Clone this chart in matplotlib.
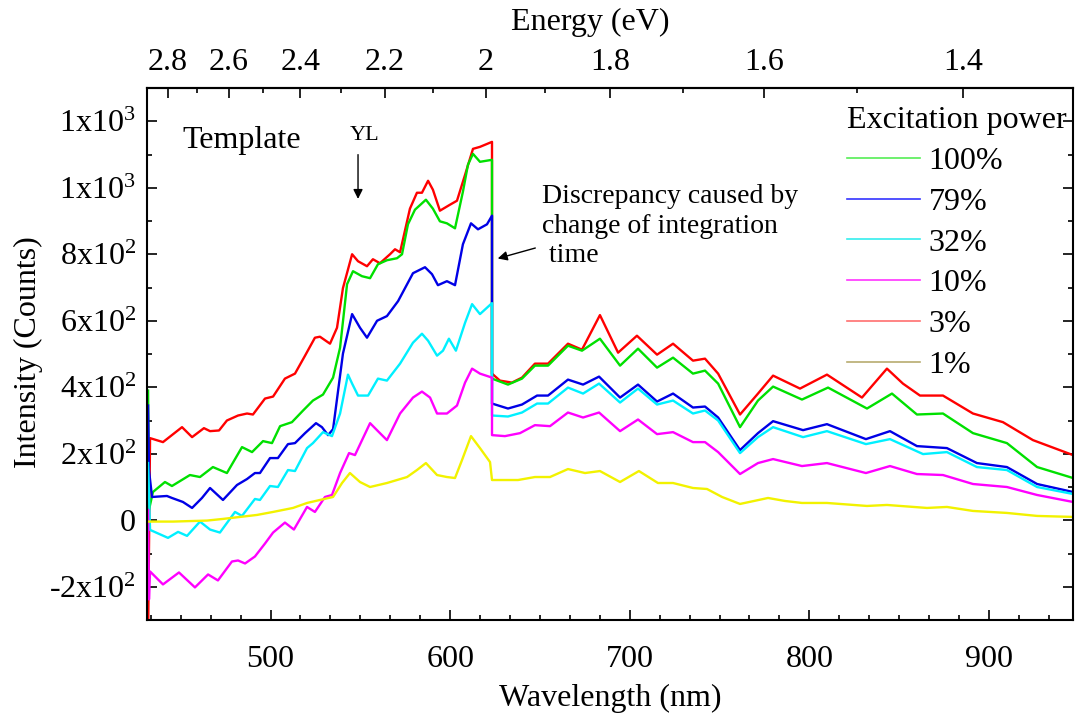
import matplotlib
matplotlib.use('Agg')
import matplotlib.pyplot as plt
from matplotlib.ticker import FixedLocator, MultipleLocator, AutoMinorLocator, FuncFormatter
from matplotlib.lines import Line2D

plt.rcParams['font.family'] = ['Liberation Serif', 'DejaVu Serif']
plt.rcParams['mathtext.fontset'] = 'custom'
plt.rcParams['mathtext.rm'] = 'Liberation Serif'
plt.rcParams['mathtext.it'] = 'Liberation Serif:italic'

# PL spectra, wavelength (nm) / intensity (counts)
wl_3 = [431.8, 432.9, 440.1, 450.7, 456.3, 462.9, 466.3, 471.3, 475.7, 481.9, 486.9, 490.2, 496.9, 501.4,
        508.0, 513.6, 519.2, 524.7, 527.5, 533.1, 537.0, 540.3, 545.4, 548.7, 553.7, 557.0, 560.9, 566.5,
        569.3, 572.1, 577.6, 581.5, 584.3, 587.7, 590.4, 594.3, 599.9, 603.8, 608.3, 612.7, 616.6, 623.3,
        623.3, 627.7, 634.4, 640.0, 647.2, 654.5, 665.6, 673.4, 683.4, 693.5, 704.0, 715.2, 724.1, 735.2,
        741.9, 749.2, 761.4, 771.4, 779.8, 794.8, 809.8, 829.3, 843.2, 852.1, 861.6, 874.4, 891.1, 907.8,
        924.5, 946.8]
int_3 = [-360, 247, 235, 280, 250, 277, 268, 270, 300, 315, 321, 318, 366, 372,
         426, 441, 495, 549, 552, 531, 579, 698, 800, 779, 764, 785, 773, 800,
         815, 806, 937, 985, 985, 1021, 994, 931, 949, 961, 1039, 1117, 1123, 1138,
         441, 420, 414, 429, 471, 471, 531, 513, 617, 504, 555, 498, 531, 480,
         486, 441, 318, 381, 435, 396, 438, 369, 456, 411, 375, 375, 321, 295,
         241, 196]

wl_100 = [431.8, 432.3, 434.5, 441.2, 445.1, 455.1, 460.7, 467.9, 475.7, 484.1, 489.7, 495.8, 500.8, 505.3,
          511.9, 518.1, 523.6, 529.2, 534.8, 538.7, 542.6, 545.9, 550.9, 555.4, 559.8, 564.8, 570.4, 573.2,
          576.5, 580.4, 586.5, 590.4, 594.3, 598.2, 602.7, 607.1, 609.9, 612.7, 616.6, 623.3,
          623.3, 632.2, 640.0, 647.2, 654.5, 665.6, 673.4, 683.4, 694.6, 704.6, 715.2, 724.1, 735.2,
          741.9, 749.2, 761.4, 771.4, 779.8, 795.9, 810.4, 832.1, 846.0, 859.9, 874.4, 891.1, 910.0,
          926.8, 946.8]
int_100 = [390, 31, 85, 115, 103, 136, 130, 160, 142, 220, 205, 238, 232, 283,
           295, 330, 360, 378, 429, 519, 710, 749, 734, 728, 770, 782, 788, 800,
           890, 934, 964, 937, 899, 893, 878, 988, 1069, 1102, 1078, 1084,
           426, 408, 426, 465, 465, 525, 510, 546, 465, 516, 459, 489, 441,
           450, 411, 280, 360, 402, 363, 399, 336, 381, 318, 321, 262, 232,
           160, 127]

wl_79 = [431.8, 432.3, 434.0, 442.3, 445.1, 451.2, 456.3, 461.8, 466.3, 473.5, 481.3, 486.9, 491.3, 494.1,
         499.7, 504.1, 509.7, 513.6, 519.2, 525.3, 528.6, 532.0, 534.8, 540.3, 545.4, 549.8, 553.7, 559.3,
         564.8, 571.0, 579.3, 586.0, 589.9, 593.2, 598.2, 602.7, 607.1, 611.6, 615.5, 620.5, 623.3,
         623.3, 632.2, 640.0, 648.4, 654.5, 665.6, 674.0, 682.9, 694.6, 704.6, 715.2, 724.1, 735.2,
         741.9, 749.2, 761.4, 771.4, 779.8, 796.5, 809.8, 831.5, 844.9, 859.9, 876.6, 893.3, 910.0,
         926.8, 946.8]
int_79 = [345, 151, 70, 73, 67, 55, 37, 67, 97, 61, 106, 124, 142, 142,
          187, 187, 229, 232, 262, 292, 280, 256, 274, 501, 620, 579, 549, 600,
          614, 659, 743, 761, 740, 707, 719, 707, 830, 893, 875, 890, 916,
          351, 336, 348, 375, 375, 423, 408, 432, 369, 408, 357, 381, 339,
          342, 309, 211, 262, 298, 271, 289, 244, 268, 223, 217, 172, 160,
          109, 85]

wl_32 = [431.8, 432.9, 442.9, 448.5, 453.5, 460.7, 466.3, 471.8, 480.2, 484.1, 491.3, 494.1, 499.7, 504.1,
         509.7, 513.6, 520.3, 523.6, 529.2, 534.2, 538.7, 543.1, 545.4, 548.7, 554.3, 559.8, 564.8, 572.1,
         579.3, 584.3, 587.7, 592.7, 596.0, 599.3, 603.2, 608.3, 612.2, 616.6, 623.3,
         623.3, 632.2, 640.0, 648.4, 654.5, 665.6, 674.0, 682.9, 694.6, 704.6, 715.2, 724.1, 735.2,
         741.9, 749.2, 761.4, 771.4, 779.8, 796.5, 809.8, 831.5, 844.9, 863.3, 876.6, 893.3, 910.0,
         926.8, 946.8]
int_32 = [172, -29, -53, -35, -47, -4, -28, -37, 25, 13, 64, 61, 103, 100,
          151, 148, 217, 232, 265, 253, 321, 438, 411, 375, 375, 426, 420, 471,
          534, 561, 540, 495, 510, 546, 510, 594, 650, 620, 653,
          315, 312, 324, 351, 351, 399, 381, 411, 354, 396, 348, 360, 321,
          330, 300, 202, 250, 280, 250, 268, 229, 244, 199, 205, 160, 151,
          100, 79]

wl_10 = [431.8, 432.3, 432.9, 440.1, 449.0, 457.9, 465.2, 470.7, 478.5, 481.9, 485.8, 491.3, 496.9, 501.4,
         508.0, 513.0, 520.3, 524.7, 530.3, 534.2, 538.7, 543.7, 547.0, 555.4, 560.9, 564.8, 572.1, 579.3,
         584.3, 588.8, 592.7, 598.2, 603.8, 608.3, 612.2, 616.6, 623.3,
         623.3, 630.5, 638.9, 647.2, 655.6, 665.6, 674.0, 682.9, 694.6, 704.6, 715.2, 724.1, 735.2,
         741.9, 749.2, 761.4, 771.4, 779.8, 795.9, 809.8, 831.5, 844.9, 859.9, 874.4, 891.1, 910.0,
         926.8, 946.8]
int_10 = [31, -238, -154, -193, -157, -202, -163, -181, -124, -121, -130, -109, -70, -37,
          -7, -28, 40, 25, 70, 76, 142, 202, 196, 292, 262, 241, 321, 369,
          387, 369, 321, 321, 345, 414, 456, 441, 429,
          256, 253, 262, 286, 283, 324, 309, 324, 268, 303, 259, 265, 235,
          235, 205, 139, 172, 184, 163, 172, 142, 163, 139, 136, 109, 100,
          76, 55]

wl_1 = [431.8, 445.7, 464.6, 473.5, 483.0, 492.5, 501.4, 512.5, 520.3, 527.5, 534.8, 539.8, 544.2, 549.8,
        555.4, 564.8, 576.0, 581.5, 586.5, 592.7, 598.2, 602.7, 606.6, 611.6, 616.6, 622.2, 623.3,
        637.8, 647.2, 655.6, 665.6, 675.1, 683.4, 694.6, 705.1, 715.7, 724.1, 735.2, 743.0, 751.4,
        761.4, 777.0, 786.4, 795.9, 809.8, 832.1, 843.2, 865.5, 876.6, 891.1, 910.0, 926.8, 946.8]
int_1 = [-4, -4, -1, 4, 10, 16, 25, 37, 52, 61, 70, 112, 142, 115,
         100, 112, 130, 151, 172, 136, 130, 127, 181, 253, 217, 175, 121,
         121, 130, 130, 154, 142, 148, 115, 148, 112, 112, 97, 94, 70,
         49, 67, 58, 52, 52, 43, 46, 37, 40, 28, 22, 13, 10]

powers = ['100%', '79%', '32%', '10%', '3%', '1%']
legend_colors = ['#55ee55', '#3333ff', '#33eeee', '#ff33ff', '#ff7070', '#b8ac70']

fig = plt.figure(figsize=(10.78, 7.21), dpi=100)
ax = fig.add_axes([147 / 1078, 1 - 620 / 721, (1073 - 147) / 1078, (620 - 88) / 721])

# drawn back to front so the step at 623 nm shows the same colour stack
kw = dict(lw=1.7, solid_joinstyle='round')
ax.plot(wl_3, int_3, color='#ff0000', **kw)
ax.plot(wl_100, int_100, color='#00e000', **kw)
ax.plot(wl_79, int_79, color='#0000e6', **kw)
ax.plot(wl_32, int_32, color='#00f0ff', **kw)
ax.plot(wl_10, int_10, color='#ff00ff', **kw)
ax.plot(wl_1, int_1, color='#f2f200', **kw)

ax.set_xlim(431.2, 946.8)
ax.set_ylim(-300, 1300)

def yfmt(v, pos):
    if v == 0:
        return '0'
    e = 3 if abs(v) >= 1000 else 2
    return '%dx10$^{%d}$' % (int(round(v / 10 ** e)), e)

ax.xaxis.set_major_locator(MultipleLocator(100))
ax.xaxis.set_minor_locator(AutoMinorLocator(6))
ax.yaxis.set_major_locator(MultipleLocator(200))
ax.yaxis.set_minor_locator(MultipleLocator(100))
ax.yaxis.set_major_formatter(FuncFormatter(yfmt))
ax.tick_params(which='both', direction='in', right=True, width=1.2, labelsize=23)
ax.tick_params(which='major', length=7.5)
ax.tick_params(which='minor', length=3.8)
ax.tick_params(axis='x', pad=18)
ax.tick_params(axis='y', pad=8)
for s in ax.spines.values():
    s.set_linewidth(1.5)

# energy scale on top
top = ax.secondary_xaxis('top', functions=(lambda w: 1240.0 / w, lambda e: 1240.0 / e))
top.xaxis.set_major_locator(FixedLocator([2.8, 2.6, 2.4, 2.2, 2.0, 1.8, 1.6, 1.4]))
top.xaxis.set_minor_locator(FixedLocator([2.7, 2.5, 2.3, 2.1, 1.9, 1.7, 1.5]))
top.xaxis.set_major_formatter(FuncFormatter(lambda v, p: '%g' % round(v, 1)))
top.tick_params(which='both', direction='in', width=1.2, labelsize=23, pad=8)
top.tick_params(which='major', length=7.5)
top.tick_params(which='minor', length=3.8)
top.spines['top'].set_linewidth(1.5)
fig.text(590 / 1078, 1 - 22 / 721, 'Energy (eV)', fontsize=23, ha='center', va='center')

ax.set_xlabel('Wavelength (nm)', fontsize=23, va='center')
ax.xaxis.set_label_coords(0.5, -0.148)
ax.set_ylabel('Intensity (Counts)', fontsize=23, va='center')
ax.yaxis.set_label_coords(-0.128, 0.504)

ax.text(451.2, 1143, 'Template', fontsize=23, va='center', ha='left')
ax.text(544.2, 1158, 'YL', fontsize=16, va='center', ha='left')
ax.annotate('', xy=(548.7, 958), xytext=(548.7, 1108),
            arrowprops=dict(arrowstyle='-|>', color='black', lw=1.0, mutation_scale=14))
ax.text(651.1, 1012, 'Discrepancy caused by\nchange of integration\n time', fontsize=20,
        va='top', ha='left', linespacing=1.25)
ax.annotate('', xy=(625.0, 785), xytext=(648.9, 821),
            arrowprops=dict(arrowstyle='-|>', color='black', lw=1.0, mutation_scale=14))

handles = [Line2D([], [], color=c, lw=1.2) for c in legend_colors]
leg = ax.legend(handles, powers, title='Excitation power', loc='upper left',
                bbox_to_anchor=(847 / 1078, 1 - 106 / 721), bbox_transform=fig.transFigure,
                frameon=False, fontsize=23, title_fontsize=23, handlelength=2.3,
                handletextpad=0.25, labelspacing=0.36, borderpad=0, borderaxespad=0,
                alignment='left')

fig.savefig('out.png', dpi=100)
